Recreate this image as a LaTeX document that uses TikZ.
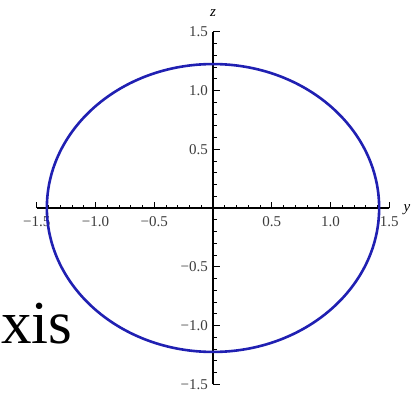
\documentclass[tikz,border=0pt]{standalone}
\usepackage{fontspec}
\setmainfont{Liberation Serif}
\usetikzlibrary{positioning,calc}
\definecolor{ellipseblue}{RGB}{32,32,178}
\definecolor{tickgray}{RGB}{60,60,60}

\begin{document}
\begin{tikzpicture}[
    x=117.5pt, y=117.5pt,
    % --- Line styles ---
    axisline/.style={line width=1.1pt, color=black},
    tickmark/.style={line width=0.8pt, color=black},
    curve/.style={line width=2.6pt, color=ellipseblue},
    % --- Text styles ---
    ticklabel/.style={font=\fontsize{15}{17}\selectfont, text=tickgray, inner sep=0pt},
    axislabel/.style={font=\fontsize{15}{17}\selectfont\itshape, inner sep=0pt},
    slidetext/.style={font=\fontsize{61}{70}\selectfont, inner sep=0pt},
  ]

    % ===================== FRAME =====================
    \useasboundingbox (-213pt,-185pt) rectangle (206pt,208pt);

    % ===================== AXES =====================
    \coordinate (origin) at (0,0);
    \coordinate (yleft)  at (-1.5,0);
    \coordinate (yright) at (1.5,0);
    \coordinate (zbot)   at (0,-1.5);
    \coordinate (ztop)   at (0,1.5);

    \draw[axisline] (yleft) -- (yright);
    \draw[axisline] (zbot) -- (ztop);

    % minor and major ticks (inward: up on y, right on z)
    \foreach \t in {-1.5,-1.4,...,1.55} {
      \draw[tickmark] (\t,0) -- ++(0,3.5pt);
      \draw[tickmark] (0,\t) -- ++(3.5pt,0);
    }
    \foreach \t in {-1.5,-1.0,-0.5,0.5,1.0,1.5} {
      \draw[tickmark] (\t,0) -- ++(0,6.5pt);
      \draw[tickmark] (0,\t) -- ++(6.5pt,0);
    }

    % tick labels
    \foreach \t/\lab in {-1.5/{−1.5},-1.0/{−1.0},-0.5/{−0.5},0.5/{0.5},1.0/{1.0},1.5/{1.5}} {
      \node[ticklabel, anchor=north] at ($(\t,0)+(0,-8pt)$) {\lab};
      \node[ticklabel, anchor=east]  at ($(0,\t)+(-5pt,0)$) {\lab};
    }

    % axis names
    \node[axislabel] (ylab) at (1.65,-0.017) {y};
    \node[axislabel] (zlab) at (0,1.66)      {z};

    % ===================== ELLIPSE =====================
    \draw[curve] (origin) ellipse [x radius=1.414, y radius=1.225];

    % ===================== SLIDE TEXT =====================
    \node[slidetext, anchor=base west] (word) at (-212pt,-135pt) {xis};

  \end{tikzpicture}
\end{document}
